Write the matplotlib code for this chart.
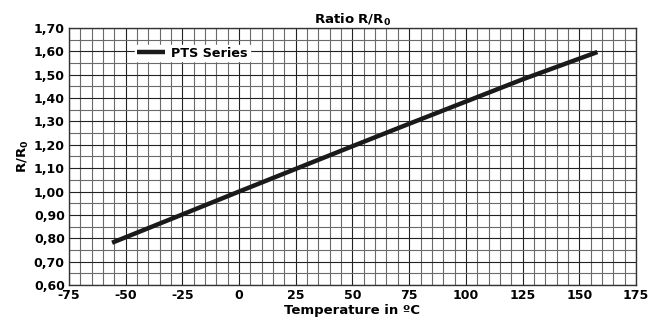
import matplotlib
matplotlib.use('Agg')
import matplotlib.pyplot as plt
from matplotlib.ticker import MultipleLocator, FuncFormatter

# PTS series ratio R/R0 vs temperature
temperature = [-56, -25, 0, 25, 50, 75, 100, 125, 158]
ratio = [0.781, 0.902, 1.000, 1.097, 1.194, 1.290, 1.385, 1.480, 1.597]

plt.rcParams['font.family'] = 'DejaVu Sans'
plt.rcParams['font.weight'] = 'bold'
plt.rcParams['axes.unicode_minus'] = False

fig = plt.figure(figsize=(6.57, 3.25), dpi=100)
ax = fig.add_axes([0.105, 0.123, 0.863, 0.791])

ax.plot(temperature, ratio, color='#1a1a1a', linewidth=3.2, label='PTS Series',
        solid_capstyle='butt', zorder=3)

ax.set_xlim(-75, 175)
ax.set_ylim(0.60, 1.70)
ax.xaxis.set_major_locator(MultipleLocator(25))
ax.xaxis.set_minor_locator(MultipleLocator(5))
ax.yaxis.set_major_locator(MultipleLocator(0.10))
ax.yaxis.set_minor_locator(MultipleLocator(0.05))
ax.yaxis.set_major_formatter(FuncFormatter(lambda v, p: f'{v:.2f}'.replace('.', ',')))

ax.grid(which='major', color='#222222', linewidth=0.8)
ax.grid(which='minor', color='#6a6a6a', linewidth=0.8)
ax.set_axisbelow(True)
ax.tick_params(which='both', length=0, labelsize=9, pad=3)
for s in ax.spines.values():
    s.set_color('#333333')
    s.set_linewidth(1)

ax.set_title('Ratio R/R$_\\mathbf{0}$', fontsize=9.5, fontweight='bold', pad=3)
ax.set_xlabel('Temperature in ºC', fontsize=9.5, fontweight='bold', labelpad=1)
ax.set_ylabel('R/R$_\\mathbf{0}$', fontsize=9.5, fontweight='bold', labelpad=2)

leg = ax.legend(loc='upper left', bbox_to_anchor=(0.105, 0.96), frameon=True,
                fancybox=False, framealpha=1, edgecolor='white',
                prop={'weight': 'bold', 'size': 9.2}, handlelength=2.2,
                borderpad=0.15, handletextpad=0.5)

fig.savefig('out.png', dpi=100)
